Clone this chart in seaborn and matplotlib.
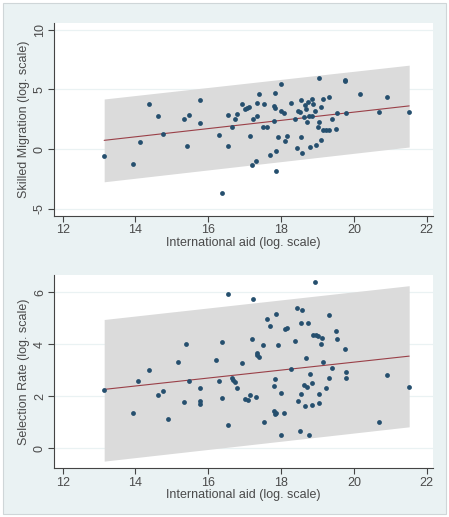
import numpy as np
import pandas as pd
import seaborn as sns
import matplotlib.pyplot as plt
from matplotlib.patches import Rectangle

# international aid (log), shared by both panels
aid = [13.14, 13.94, 14.12, 14.38, 14.62, 14.76, 15.33, 15.46, 15.42, 15.76,
       15.76, 16.30, 16.37, 16.53, 16.55, 16.66, 16.73, 16.79, 16.92, 17.01,
       17.07, 17.13, 17.15, 17.21, 17.22, 17.32, 17.33, 17.35, 17.38, 17.49,
       17.54, 17.61, 17.70, 17.81, 17.82, 17.82, 17.81, 17.87, 17.86, 17.91,
       18.00, 18.00, 18.09, 18.12, 18.17, 18.26, 18.38, 18.43, 18.46, 18.52,
       18.54, 18.56, 18.58, 18.63, 18.66, 18.68, 18.70, 18.74, 18.78, 18.80,
       18.86, 18.86, 18.88, 18.92, 18.95, 19.01, 19.04, 19.05, 19.10, 19.11,
       19.15, 19.16, 19.24, 19.33, 19.33, 19.41, 19.51, 19.55, 19.75, 19.77,
       19.78, 20.18, 20.69, 20.90, 21.52]

skilled = [-0.56, -1.29, 0.56, 3.81, 2.80, 1.29, 2.55, 2.89, 0.28, 4.09,
           2.16, 1.18, -3.73, 2.89, 0.25, 1.88, 2.55, 2.97, 3.76, 3.39,
           3.42, 3.50, 1.07, -1.35, 2.50, -0.98, 2.80, 3.87, 4.60, 1.82,
           3.76, 1.85, -0.50, 3.62, 3.42, 4.68, 2.35, -0.17, -1.82, 1.04,
           5.47, 3.20, 3.00, 0.64, 1.09, 3.87, 2.50, 0.06, 3.22, 3.08,
           4.15, 0.98, -0.31, 2.72, 3.73, 3.39, 2.27, 3.98, 2.80, 0.14,
           2.75, 4.21, 3.76, 3.22, 0.34, 1.82, 2.27, 6.00, 0.76, 3.50,
           1.60, 4.18, 1.60, 1.60, 4.40, 2.50, 1.68, 3.00, 5.69, 5.80,
           3.00, 4.60, 3.14, 4.35, 3.08]

aid2 = [13.14, 13.94, 14.06, 14.38, 14.62, 14.76, 14.88, 15.18, 15.33, 15.38,
        15.46, 15.77, 15.76, 15.76, 16.22, 16.30, 16.37, 16.37, 16.53, 16.55,
        16.66, 16.69, 16.73, 16.79, 16.92, 17.01, 17.09, 17.14, 17.21, 17.22,
        17.32, 17.33, 17.35, 17.38, 17.49, 17.54, 17.61, 17.70, 17.81, 17.82,
        17.81, 17.82, 17.87, 17.86, 17.91, 18.00, 18.00, 18.09, 18.12, 18.17,
        18.26, 18.38, 18.43, 18.46, 18.52, 18.54, 18.56, 18.58, 18.63, 18.66,
        18.68, 18.70, 18.74, 18.78, 18.80, 18.86, 18.86, 18.88, 18.92, 18.95,
        19.01, 19.04, 19.05, 19.11, 19.13, 19.15, 19.24, 19.33, 19.33, 19.41,
        19.51, 19.55, 19.75, 19.78, 19.78, 20.69, 20.90, 21.52]

selection = [2.24, 1.37, 2.59, 3.01, 2.06, 2.22, 1.13, 3.31, 1.77, 4.01,
             2.59, 2.31, 1.81, 1.72, 3.41, 2.59, 4.10, 1.92, 0.90, 5.95,
             2.69, 2.63, 2.54, 2.31, 3.28, 1.90, 1.86, 2.06, 4.22, 5.76,
             1.99, 3.68, 3.60, 3.50, 3.99, 1.00, 4.97, 4.71, 2.40, 2.68,
             1.42, 1.31, 1.37, 5.19, 3.99, 2.15, 0.53, 1.35, 4.60, 4.63,
             3.04, 4.12, 5.41, 1.81, 0.68, 2.10, 4.81, 5.31, 2.44, 1.65,
             3.46, 2.37, 4.83, 0.53, 2.88, 2.53, 1.68, 4.37, 6.41, 4.37,
             4.33, 2.10, 1.73, 4.01, 4.26, 3.31, 2.31, 5.14, 2.72, 3.10,
             4.51, 4.19, 3.81, 2.95, 2.72, 1.00, 2.83, 2.35]

# fitted line and prediction band, read at the ends of the aid range
fit_x = [13.14, 21.52]
skilled_fit = [0.73, 3.62]
skilled_lo = [-2.75, 0.17]
skilled_hi = [4.20, 7.04]
selection_fit = [2.27, 3.55]
selection_lo = [-0.49, 0.83]
selection_hi = [4.96, 6.26]

bg = "#eaf2f3"
navy = "#254f6e"
maroon = "#9a4048"
band = "#dbdbdb"
txt = "#4a4a4a"

sns.set_style("white")
plt.rcParams['font.family'] = ['Liberation Sans', 'DejaVu Sans']

fig = plt.figure(figsize=(4.49, 5.17), dpi=100, facecolor="white")
fig.patches.append(Rectangle((3 / 449, 3 / 517), 443 / 449, 511 / 517, transform=fig.transFigure,
                             facecolor=bg, edgecolor="#cfd6d8", linewidth=0.8, zorder=-10))

panels = [
    (aid, skilled, skilled_fit, skilled_lo, skilled_hi, "Skilled Migration (log. scale)",
     [-5, 0, 5, 10], (-5.63, 10.6), [0.121, 0.582, 0.843, 0.374]),
    (aid2, selection, selection_fit, selection_lo, selection_hi, "Selection Rate (log. scale)",
     [0, 2, 4, 6], (-0.77, 6.67), [0.121, 0.094, 0.843, 0.374]),
]

for x, y, fit, lo, hi, ylabel, yticks, ylim, rect in panels:
    ax = fig.add_axes(rect)
    ax.set_facecolor("white")
    ax.fill_between(fit_x, lo, hi, color=band, linewidth=0, zorder=1)
    sns.lineplot(x=fit_x, y=fit, color=maroon, linewidth=0.8, ax=ax, zorder=2)
    sns.scatterplot(x=x, y=y, color=navy, s=12, marker="o", linewidth=0, ax=ax, zorder=3)
    for t in yticks:
        ax.axhline(t, color=bg, linewidth=0.9, zorder=0)
    ax.set_xlim(11.77, 22.17)
    ax.set_ylim(*ylim)
    ax.set_xticks([12, 14, 16, 18, 20, 22])
    ax.set_yticks(yticks)
    ax.set_yticklabels([str(t) for t in yticks], rotation=90, va="center")
    ax.tick_params(axis="both", direction="out", length=4, width=0.8, color="#444444",
                   labelsize=9, labelcolor=txt, pad=2, left=True, bottom=True)
    for side in ["top", "right"]:
        ax.spines[side].set_visible(False)
    for side in ["left", "bottom"]:
        ax.spines[side].set_color("#444444")
        ax.spines[side].set_linewidth(0.8)
    ax.set_xlabel("International aid (log. scale)", fontsize=9, color=txt, labelpad=0.5)
    ax.set_ylabel(ylabel, fontsize=9, color=txt, labelpad=3)

fig.savefig("out.png", dpi=100, facecolor=fig.get_facecolor())
